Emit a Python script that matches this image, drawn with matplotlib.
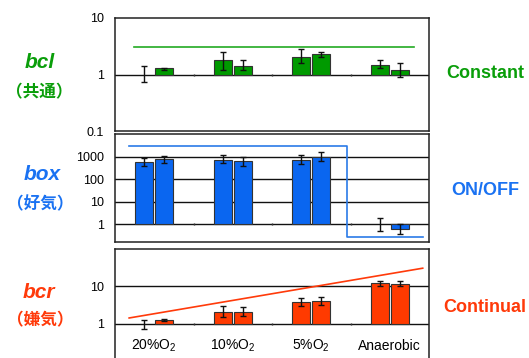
import numpy as np
import matplotlib.pyplot as plt

plt.rcParams['font.family'] = ['Liberation Sans', 'Noto Sans CJK JP', 'DejaVu Sans']
plt.rcParams['mathtext.fontset'] = 'custom'
plt.rcParams['mathtext.rm'] = 'Liberation Sans'
plt.rcParams['mathtext.it'] = 'Liberation Sans:italic'

# conditions (x labels)
conditions = ['20%O$_2$', '10%O$_2$', '5%O$_2$', 'Anaerobic']

# two replicates per condition; nan = no bar drawn (error bar only)
nan = np.nan
bcl_val = [nan, 1.28, 1.77, 1.44, 2.08, 2.35, 1.5, 1.18]
bcl_mid = [1.0, 1.28, 1.77, 1.44, 2.08, 2.35, 1.5, 1.18]
bcl_lo = [0.75, 1.18, 1.18, 1.18, 1.57, 2.08, 1.3, 0.92]
bcl_hi = [1.39, 1.33, 2.55, 1.77, 2.77, 2.55, 1.77, 1.57]

box_val = [570, 780, 700, 630, 700, 950, nan, 0.6]
box_mid = [570, 780, 700, 630, 700, 950, 1.0, 0.6]
box_lo = [380, 510, 510, 380, 460, 630, 0.49, 0.36]
box_hi = [860, 1050, 1170, 960, 1170, 1600, 1.85, 1.0]

bcr_val = [nan, 1.28, 2.06, 2.0, 3.84, 4.0, 12.0, 11.8]
bcr_mid = [0.97, 1.28, 2.06, 2.0, 3.84, 4.0, 12.0, 11.8]
bcr_lo = [0.73, 1.2, 1.48, 1.57, 3.0, 3.1, 10.2, 10.2]
bcr_hi = [1.28, 1.35, 2.93, 2.75, 4.9, 5.1, 14.2, 14.2]

# schematic trend lines
bcl_trend_x = [0.24, 3.81]
bcl_trend_y = [3.1, 3.1]
box_trend_x = [0.18, 2.96, 2.96, 3.92]
box_trend_y = [3000, 3000, 0.26, 0.26]
bcr_trend_x = [0.18, 3.92]
bcr_trend_y = [1.42, 30.6]

W, H = 529, 358
fig = plt.figure(figsize=(W / 100, H / 100), dpi=100)


def px_axes(x0, y0, x1, y1):
    return fig.add_axes([x0 / W, 1 - y1 / H, (x1 - x0) / W, (y1 - y0) / H])


def fig_text(x, y, s, **kw):
    fig.text(x / W, 1 - y / H, s, ha='center', va='center', **kw)


green, blue, red = '#0a9e0a', '#1a72f2', '#ff3a0a'
bar_green, bar_blue, bar_red = '#009a00', '#0a66f0', '#ff3a00'

panels = [
    (px_axes(115, 18, 429, 131), bcl_val, bcl_mid, bcl_lo, bcl_hi, bar_green,
     (0.1, 10), [0.1, 1, 10], ['0.1', '1', '10'], [1],
     bcl_trend_x, bcl_trend_y, '#22aa22'),
    (px_axes(115, 134, 429, 242), box_val, box_mid, box_lo, box_hi, bar_blue,
     (0.16, 10000), [1, 10, 100, 1000], ['1', '10', '100', '1000'], [1, 10, 100, 1000],
     box_trend_x, box_trend_y, '#2a7ae8'),
    (px_axes(115, 249, 429, 361), bcr_val, bcr_mid, bcr_lo, bcr_hi, bar_red,
     (0.1, 100), [1, 10], ['1', '10'], [1, 10],
     bcr_trend_x, bcr_trend_y, '#ff3a0a'),
]

xpos = []
for i in range(len(conditions)):
    xpos += [i + 0.5 - 0.13, i + 0.5 + 0.13]
xpos = np.array(xpos)

for ax, val, mid, lo, hi, col, ylim, ticks, labels, grid, tx, ty, tcol in panels:
    ax.set_yscale('log')
    ax.set_xlim(0, 4)
    ax.set_ylim(*ylim)
    for g in grid:
        ax.axhline(g, color='#111111', lw=1.0, zorder=1)
    val = np.array(val, dtype=float)
    ax.bar(xpos, val - 1, bottom=1, width=0.23, color=col,
           edgecolor='#333333', linewidth=0.8, zorder=2)
    mid = np.array(mid)
    yerr = [mid - np.array(lo), np.array(hi) - mid]
    ax.errorbar(xpos, mid, yerr=yerr, fmt='none', ecolor='#111111',
                elinewidth=1.0, capsize=2, capthick=1.0, zorder=3)
    ax.plot([1, 2, 3], [1, 1, 1], ls='none', marker='|', ms=2,
            color='#333333', zorder=3)
    ax.plot(tx, ty, color=tcol, lw=1.2, zorder=4)
    ax.set_yticks(ticks)
    ax.set_yticklabels(labels)
    ax.yaxis.set_minor_locator(plt.NullLocator())
    ax.tick_params(axis='y', length=0, pad=8, labelsize=9)
    ax.set_xticks([])
    for s in ax.spines.values():
        s.set_linewidth(1.1)
        s.set_color('#222222')

ax_bot = panels[2][0]
for i, c in enumerate(conditions):
    ax_bot.text(i + 0.5, 0.2, c, ha='center', va='baseline', fontsize=10)

# left gene labels
fig_text(40, 63, 'bcl', color=green, fontsize=15, fontweight='bold', style='italic')
fig_text(39, 92, '（共通）', color=green, fontsize=12, fontweight='bold')
fig_text(42, 175, 'box', color=blue, fontsize=15, fontweight='bold', style='italic')
fig_text(40, 204, '（好気）', color=blue, fontsize=12, fontweight='bold')
fig_text(39, 292, 'bcr', color=red, fontsize=15, fontweight='bold', style='italic')
fig_text(40, 320, '（嫌気）', color=red, fontsize=12, fontweight='bold')

# right pattern labels
fig_text(485, 74, 'Constant', color=green, fontsize=13, fontweight='bold')
fig_text(485, 190, 'ON/OFF', color=blue, fontsize=13, fontweight='bold')
fig_text(485, 307, 'Continual', color=red, fontsize=13, fontweight='bold')

fig.savefig('out.png', dpi=100)
